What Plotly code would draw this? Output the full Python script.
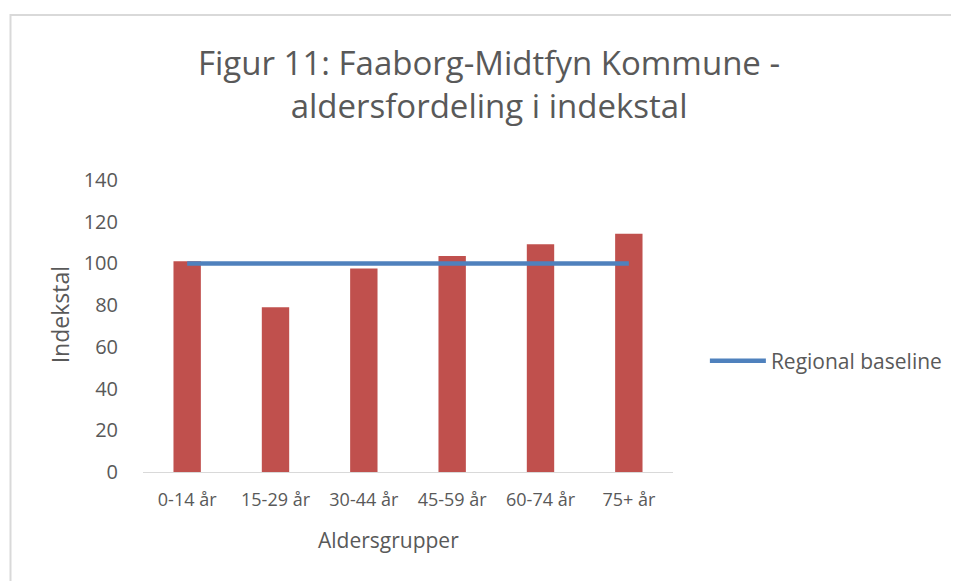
import plotly.graph_objects as go

categories = ["0-14 år", "15-29 år", "30-44 år", "45-59 år", "60-74 år", "75+ år"]
indekstal = [101, 79, 97.6, 103.6, 109.2, 114.2]
baseline = [100, 100, 100, 100, 100, 100]
y_ticks = [0, 20, 40, 60, 80, 100, 120, 140]

OFF = 8  # page body margin
W, H = 959 - OFF, 581 - OFF
# plot area in window pixels
L, R, T, B = 143 - OFF, 675 - OFF, 180 - OFF, 472 - OFF

def px_x(x):
    return (x - OFF - L) / (R - L)

def px_y(y):
    return (B - (y - OFF)) / (B - T)

FONT = "Open Sans"
GREY = "#595959"

fig = go.Figure()
fig.add_trace(go.Bar(
    x=categories, y=indekstal, marker=dict(color="#C0504D", line=dict(width=0)),
    width=0.31, showlegend=False, name="Indekstal"))
fig.add_trace(go.Scatter(
    x=categories, y=baseline, mode="lines", name="Regional baseline",
    line=dict(color="#4F81BD", width=4.5)))

fig.update_layout(
    width=W, height=H,
    margin=dict(l=L, r=W - R, t=T, b=H - B, pad=0),
    paper_bgcolor="white", plot_bgcolor="white",
    font=dict(family=FONT, color=GREY, size=19),
    showlegend=True,
    legend=dict(x=px_x(707), y=px_y(361), xanchor="left", yanchor="middle",
                font=dict(size=21, color=GREY), itemwidth=56,
                bgcolor="rgba(0,0,0,0)"),
    xaxis=dict(showgrid=False, showline=True, linecolor="#D9D9D9", linewidth=1,
               ticks="", tickfont=dict(size=18, color=GREY), ticklabelstandoff=11,
               zeroline=False),
    yaxis=dict(range=[0, 140], tickvals=y_ticks, showgrid=False, showline=False,
               zeroline=False, ticks="", tickfont=dict(size=20, color=GREY),
               ticklabelstandoff=24),
    annotations=[
        dict(text="Figur 11: Faaborg-Midtfyn Kommune -<br>aldersfordeling i indekstal",
             xref="paper", yref="paper", x=px_x(490), y=px_y(84),
             xanchor="center", yanchor="middle", showarrow=False,
             font=dict(size=33, color=GREY, family=FONT), align="center"),
        dict(text="Aldersgrupper", xref="paper", yref="paper",
             x=px_x(389), y=px_y(540), xanchor="center", yanchor="middle",
             showarrow=False, font=dict(size=21, color=GREY, family=FONT)),
        dict(text="Indekstal", xref="paper", yref="paper", textangle=-90,
             x=px_x(60), y=px_y(315), xanchor="center", yanchor="middle",
             showarrow=False, font=dict(size=23, color=GREY, family=FONT)),
    ],
    shapes=[dict(type="rect", xref="paper", yref="paper",
                 x0=px_x(10), x1=px_x(1000), y0=px_y(640), y1=px_y(15),
                 line=dict(color="#D9D9D9", width=2), fillcolor="rgba(0,0,0,0)",
                 layer="below")],
)

fig.write_html("out.html")
